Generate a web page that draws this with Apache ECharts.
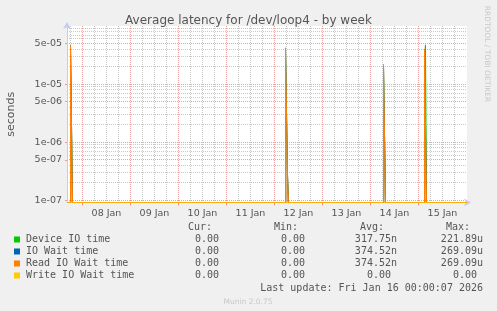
<!DOCTYPE html>
<html>
<head>
<meta charset="utf-8">
<script src="https://cdn.jsdelivr.net/npm/echarts@6/dist/echarts.min.js"></script>
<style>
html,body{margin:0;padding:0;background:#f0f0f0;}
#c{width:497px;height:311px;}
</style>
</head>
<body>
<div id="c"></div>
<script>
// ---- data (time in hours since 07 Jan 00:00, 30-min samples, drawn as steps) ----
const times       = [16.25, 18.0, 18.5, 19.0, 19.5, 125.5, 126.0, 126.5, 127.0, 127.5, 174.5, 175.0, 175.5, 176.0, 195.0, 195.5, 196.0, 196.5, 216.25];
const deviceIO    = [0, 0, 4.0e-5, 4.0e-5, 0, 0, 3.8e-5, 3.8e-5, 2.5e-7, 0, 0, 1.9e-5, 1.9e-5, 0, 0, 3.0e-5, 4.74e-5, 0, 0];
const ioWait      = [0, 0, 4.6e-5, 4.6e-5, 0, 0, 4.2e-5, 4.2e-5, 2.8e-7, 0, 0, 2.15e-5, 2.15e-5, 0, 0, 3.9e-5, 3.9e-5, 0, 0];
const readIOWait  = [0, 0, 4.6e-5, 4.6e-5, 0, 0, 4.2e-5, 4.2e-5, 2.8e-7, 0, 0, 2.15e-5, 2.15e-5, 0, 0, 3.9e-5, 3.9e-5, 0, 0];
const writeIOWait = [0, 0, 0, 0, 0, 0, 0, 0, 0, 0, 0, 0, 0, 0, 0, 0, 0, 0, 0];

const seriesNames  = ['Device IO time', 'IO Wait time', 'Read IO Wait time', 'Write IO Wait time'];
const seriesColors = ['#00cc00', '#0066b3', '#ff8000', '#ffcc00'];
const curVals = ['0.00 ', '0.00 ', '0.00 ', '0.00 '];
const minVals = ['0.00 ', '0.00 ', '0.00 ', '0.00 '];
const avgVals = ['317.75n', '374.52n', '374.52n', '0.00 '];
const maxVals = ['221.89u', '269.09u', '269.09u', '0.00 '];

const dayLabels   = ['08 Jan', '09 Jan', '10 Jan', '11 Jan', '12 Jan', '13 Jan', '14 Jan', '15 Jan'];
const dayLabelPos = [36, 60, 84, 108, 132, 156, 180, 204];        // noon of each day
const midnights   = [24, 48, 72, 96, 120, 144, 168, 192];
const sixHours    = [18, 30, 36, 42, 54, 60, 66, 78, 84, 90, 102, 108, 114, 126, 132, 138, 150, 156, 162, 174, 180, 186, 198, 204, 210];

const yTickValues = [5e-5, 1e-5, 5e-6, 1e-6, 5e-7, 1e-7];
const yTickLabels = ['5e-05', '1e-05', '5e-06', '1e-06', '5e-07', '1e-07'];
const yMinorValues = [2e-7,3e-7,4e-7,6e-7,7e-7,8e-7,9e-7, 2e-6,3e-6,4e-6,6e-6,7e-6,8e-6,9e-6, 2e-5,3e-5,4e-5,6e-5,7e-5,8e-5,9e-5];

const lastUpdate = 'Last update: Fri Jan 16 00:00:07 2026';
const X_MIN = 16.25, X_MAX = 216.25, Y_MIN = -7.035, Y_MAX = -4.0;

// ---- build ----
const L = Math.log10;
function toY(v){ return v > 0 ? L(v) : Y_MIN; }
const allSeries = [deviceIO, ioWait, readIOWait, writeIOWait];

const redGrid = '#e9a3a3';
const grayGrid = '#c8c8c8';
const axisBlue = '#c4cbef';

function gridSeries(vx, hy, color, z) {
  const data = vx.map(t => [t, Y_MIN, 0]).concat(hy.map(v => [X_MIN, L(v), 1]));
  return {
    type: 'custom', silent: true, z: z, animation: false,
    encode: { x: 0, y: 1 },
    data: data,
    renderItem: function (params, api) {
      const cs = params.coordSys;
      const p = api.coord([api.value(0), api.value(1)]);
      let shape;
      if (api.value(2) === 0) {
        const x = Math.round(p[0] - 0.5) + 0.5;
        shape = { x1: x, y1: cs.y, x2: x, y2: cs.y + cs.height };
      } else {
        const y = Math.round(p[1] - 0.5) + 0.5;
        shape = { x1: cs.x, y1: y, x2: cs.x + cs.width, y2: y };
      }
      return { type: 'line', shape: shape, style: { stroke: color, lineWidth: 1, lineDash: [1, 1] } };
    }
  };
}

const series = [gridSeries(sixHours, yMinorValues, grayGrid, 1), gridSeries(midnights, yTickValues, redGrid, 2)];
allSeries.forEach((vals, i) => {
  const s = {
    name: seriesNames[i],
    type: 'line',
    step: 'start',
    clip: false,
    showSymbol: false,
    symbol: 'none',
    lineStyle: { width: 1, color: seriesColors[i], opacity: i === 3 ? 0.6 : 1 },
    itemStyle: { color: seriesColors[i] },
    data: times.map((t, k) => [t, toY(vals[k])]),
    z: 10 + i,
    animation: false
  };
  if (i === 2) s.areaStyle = { color: 'rgba(215,140,45,0.9)', origin: 'start' };
  series.push(s);
});

const graphics = [];
const MONO = '10px "DejaVu Sans Mono", monospace';
const txtColor = '#555';
function txt(text, x, y, align, font, fill, extra){
  return Object.assign({ type: 'text', silent: true,
    style: { text: text, x: x, y: y, textAlign: align, textVerticalAlign: 'middle', font: font, fill: fill } }, extra || {});
}
graphics.push(txt('Cur:', 212, 227, 'right', MONO, txtColor));
graphics.push(txt('Min:', 298, 227, 'right', MONO, txtColor));
graphics.push(txt('Avg:', 384, 227, 'right', MONO, txtColor));
graphics.push(txt('Max:', 470, 227, 'right', MONO, txtColor));
for (let i = 0; i < 4; i++) {
  const y = 239.5 + i * 12;
  graphics.push({ type: 'rect', silent: true, shape: { x: 14, y: y - 3, width: 6, height: 6 }, style: { fill: seriesColors[i] } });
  graphics.push(txt(seriesNames[i], 26, y, 'left', MONO, txtColor));
  graphics.push(txt(curVals[i], 225, y, 'right', MONO, txtColor));
  graphics.push(txt(minVals[i], 311, y, 'right', MONO, txtColor));
  graphics.push(txt(avgVals[i], 397, y, 'right', MONO, txtColor));
  graphics.push(txt(maxVals[i], 483, y, 'right', MONO, txtColor));
}
graphics.push(txt(lastUpdate, 483, 288, 'right', MONO, txtColor));
graphics.push(txt('Munin 2.0.75', 248, 302, 'center', '7.5px "DejaVu Sans", sans-serif', '#c8c8c8'));
graphics.push(txt('RRDTOOL / TOBI OETIKER', 0, 0, 'center', '7.5px "DejaVu Sans", sans-serif', '#c8c8c8',
  { x: 487, y: 54, rotation: -Math.PI / 2 }));

const option = {
  backgroundColor: '#f0f0f0',
  animation: false,
  title: {
    text: 'Average latency for /dev/loop4 - by week',
    left: 'center', top: 10,
    textStyle: { fontFamily: 'DejaVu Sans', fontSize: 12, fontWeight: 'normal', color: '#555' }
  },
  grid: { left: 67, right: 30, top: 26, bottom: 108.5, show: true, backgroundColor: '#ffffff', borderWidth: 0,
          containLabel: false, outerBoundsMode: 'none' },
  xAxis: {
    type: 'value', min: X_MIN, max: X_MAX,
    axisLine: { show: true, lineStyle: { color: axisBlue, width: 1 }, symbol: ['none', 'arrow'], symbolSize: [6, 7], symbolOffset: [0, 4] },
    axisTick: { show: true, customValues: midnights, length: 3, lineStyle: { color: '#e99' } },
    splitLine: { show: false },
    axisLabel: { customValues: dayLabelPos, color: '#555', fontFamily: 'DejaVu Sans', fontSize: 9.5, margin: 6,
      formatter: function (v) { const k = dayLabelPos.indexOf(Math.round(v)); return k >= 0 ? dayLabels[k] : ''; } },
    z: 3
  },
  yAxis: {
    type: 'value', min: Y_MIN, max: Y_MAX,
    name: 'seconds', nameLocation: 'middle', nameGap: 50, nameRotate: 90,
    nameTextStyle: { fontFamily: 'DejaVu Sans', fontSize: 11, color: '#555' },
    axisLine: { show: true, lineStyle: { color: axisBlue, width: 1 }, symbol: ['none', 'arrow'], symbolSize: [6, 7], symbolOffset: [0, 4] },
    axisTick: { show: true, customValues: yTickValues.map(L), length: 2, lineStyle: { color: '#e99' } },
    splitLine: { show: false },
    axisLabel: { customValues: yTickValues.map(L), color: '#555', fontFamily: 'DejaVu Sans', fontSize: 9.5, margin: 5,
      formatter: function (v) {
        let best = 0, bd = 1e9;
        yTickValues.forEach((tv, k) => { const d = Math.abs(L(tv) - v); if (d < bd) { bd = d; best = k; } });
        return yTickLabels[best];
      } },
    z: 3
  },
  series: series,
  graphic: { elements: graphics }
};

const chart = echarts.init(document.getElementById('c'), null, { renderer: 'canvas' });
chart.setOption(option);
</script>
</body>
</html>
